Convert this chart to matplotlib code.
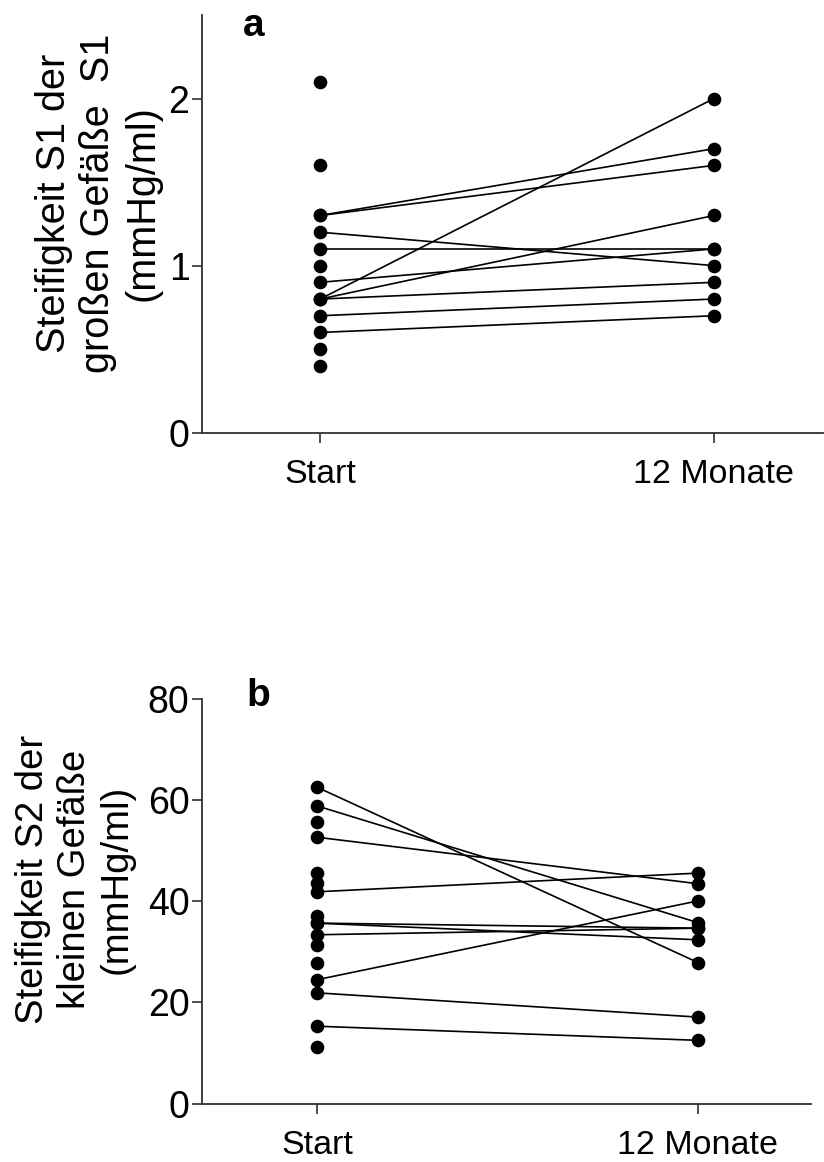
import numpy as np
import matplotlib
matplotlib.use("Agg")
import matplotlib.pyplot as plt

plt.rcParams['font.family'] = ['Liberation Sans', 'DejaVu Sans']

# Time points on the x axis
timepoints = ["Start", "12 Monate"]

# Panel a: stiffness of the large vessels (S1); nan = no follow-up value
s1_start = [2.1, 1.6, 1.3, 1.3, 1.2, 1.1, 1.0, 0.9, 0.8, 0.8, 0.8, 0.7, 0.6, 0.5, 0.4]
s1_end = [np.nan, np.nan, 1.7, 1.6, 1.0, 1.1, np.nan, 1.1, 2.0, 1.3, 0.9, 0.8, 0.7,
          np.nan, np.nan]
s1_ticks = [0, 1, 2]

# Panel b: stiffness of the small vessels (S2)
s2_start = [62.6, 58.9, 55.7, 52.7, 45.6, 43.6, 41.9, 37.2, 35.7, 35.7, 33.4, 31.4,
            27.9, 24.5, 21.9, 15.3, 11.1]
s2_end = [27.9, 35.8, np.nan, 43.5, np.nan, np.nan, 45.6, np.nan, 34.7, 32.4, 34.7,
          np.nan, np.nan, 40.1, 17.1, 12.5, np.nan]
s2_ticks = [0, 20, 40, 60, 80]

W, H = 824, 1162
fig = plt.figure(figsize=(W / 100, H / 100), dpi=100)


def px_axes(left, right, top, bottom):
    return fig.add_axes([left / W, 1 - bottom / H, (right - left) / W, (bottom - top) / H])


def draw_panel(ax, start, end, xlim, ylim, yticks, label, letter, label_xy, letter_xy,
               label_size):
    start = np.asarray(start, float)
    end = np.asarray(end, float)
    for s, e in zip(start, end):
        if not np.isnan(e):
            ax.plot([0, 1], [s, e], color='black', lw=1.2, zorder=2, clip_on=False)
    ax.plot(np.zeros(len(start)), start, 'o', color='black', ms=8.8, zorder=3,
            clip_on=False)
    ok = ~np.isnan(end)
    ax.plot(np.ones(ok.sum()), end[ok], 'o', color='black', ms=8.8, zorder=3,
            clip_on=False)
    ax.set_xlim(*xlim)
    ax.set_ylim(*ylim)
    ax.set_xticks([0, 1])
    ax.set_xticklabels(timepoints, fontsize=24.5)
    ax.set_yticks(yticks)
    ax.set_yticklabels([str(t) for t in yticks], fontsize=27)
    for side in ('top', 'right'):
        ax.spines[side].set_visible(False)
    for side in ('left', 'bottom'):
        ax.spines[side].set_linewidth(1.3)
        ax.spines[side].set_color('#303030')
    ax.tick_params(axis='both', length=7, width=1.2, color='#303030')
    ax.tick_params(axis='y', pad=2)
    ax.tick_params(axis='x', pad=12)
    fig.text(label_xy[0] / W, 1 - label_xy[1] / H, label, rotation=90,
             ha='center', va='center', multialignment='center',
             rotation_mode='anchor', fontsize=label_size, linespacing=1.2)
    fig.text(letter_xy[0] / W, 1 - letter_xy[1] / H, letter, fontsize=28,
             fontweight='bold', ha='left', va='baseline')


ax_a = px_axes(202, 823, 15, 432.7)
draw_panel(ax_a, s1_start, s1_end, (-0.30, 1.277), (0, 2.5), s1_ticks,
           "Steifigkeit S1 der\ngroßen Gefäße  S1\n(mmHg/ml)", "a",
           (98, 203), (243, 36), 28.5)

ax_b = px_axes(202, 811, 699.3, 1103.5)
draw_panel(ax_b, s2_start, s2_end, (-0.302, 1.297), (0, 80), s2_ticks,
           "Steifigkeit S2 der\nkleinen Gefäße\n(mmHg/ml)", "b",
           (75, 879), (246, 706), 27.5)

fig.savefig("out.png", dpi=100)
